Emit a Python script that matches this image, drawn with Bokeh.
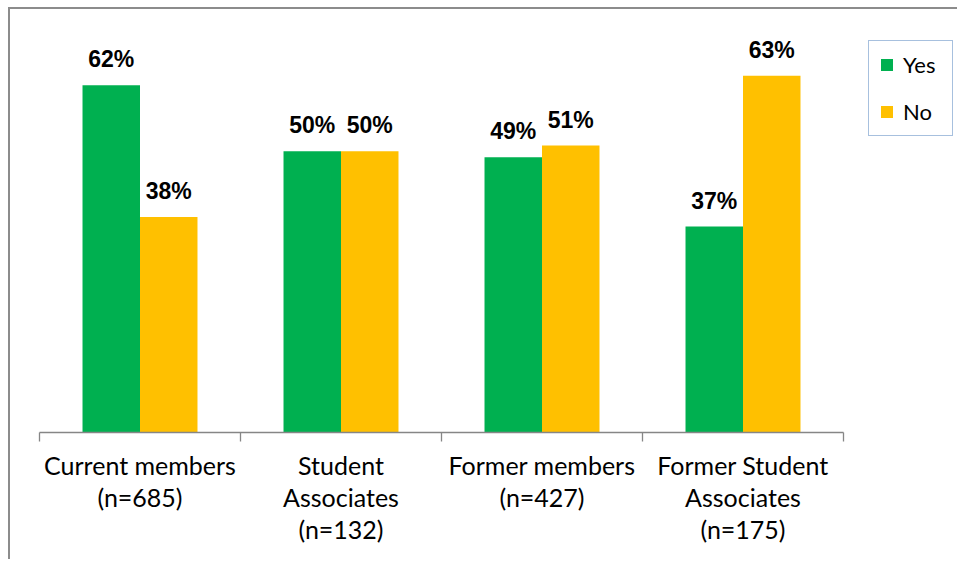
from bokeh.plotting import figure
from bokeh.models import (ColumnDataSource, Range1d, FixedTicker, LabelSet,
                          Legend, LegendItem)
from bokeh.core.properties import value
from bokeh.embed import file_html
from bokeh.resources import INLINE

categories = ["Current members\n(n=685)", "Student\nAssociates\n(n=132)",
              "Former members\n(n=427)", "Former Student\nAssociates\n(n=175)"]
yes_values = [61.7, 50.0, 48.9, 36.6]
no_values = [38.3, 50.0, 51.0, 63.4]
yes_labels = ["62%", "50%", "49%", "37%"]
no_labels = ["38%", "50%", "51%", "63%"]

GREEN = "#00B050"
YELLOW = "#FFC000"
FONT = "Lato"
BOLD_FONT = "Liberation Sans"
BAR_W = 0.286
N = len(categories)

centers = [i + 0.5 for i in range(N)]
yes_src = ColumnDataSource(dict(x=[c - BAR_W / 2 for c in centers], top=yes_values, lab=yes_labels))
no_src = ColumnDataSource(dict(x=[c + BAR_W / 2 for c in centers], top=no_values, lab=no_labels))

# frame spans to the right edge; the category axis is bounded to [0, N]
p = figure(width=949, height=552, output_backend="svg", toolbar_location=None,
           x_range=Range1d(0, N * 920 / 804), y_range=Range1d(0, 73.76),
           min_border_left=29, min_border_right=0, min_border_top=8,
           min_border_bottom=129,
           styles={"margin-left": "8px", "margin-top": "7px",
                   "border-left": "2px solid #8c8c8c",
                   "border-top": "2px solid #8c8c8c"})
p.outline_line_color = None
p.grid.visible = False
p.yaxis.visible = False

r_yes = p.vbar(x="x", top="top", width=BAR_W, bottom=0, source=yes_src,
               fill_color=GREEN, line_color=None)
r_no = p.vbar(x="x", top="top", width=BAR_W, bottom=0, source=no_src,
              fill_color=YELLOW, line_color=None)

for src in (yes_src, no_src):
    p.add_layout(LabelSet(x="x", y="top", text="lab", source=src, y_offset=18,
                          text_align="center", text_baseline="alphabetic",
                          text_font=value(BOLD_FONT), text_font_style=value("bold"),
                          text_font_size=value("23px"), text_color="#000000"))

ax = p.xaxis[0]
ax.bounds = (0, N)
ax.ticker = FixedTicker(ticks=centers, minor_ticks=list(range(N + 1)))
ax.major_label_overrides = {c: lab for c, lab in zip(centers, categories)}
ax.major_tick_line_color = None
ax.minor_tick_line_color = "#868686"
ax.minor_tick_line_width = 1.3
ax.minor_tick_in = 0
ax.minor_tick_out = 9
ax.axis_line_color = "#868686"
ax.axis_line_width = 1.3
ax.major_label_text_font = FONT
ax.major_label_text_font_size = "25px"
ax.major_label_text_color = "#000000"
ax.major_label_text_line_height = 1.067
ax.major_label_standoff = 8

legend = Legend(items=[LegendItem(label="Yes", renderers=[r_yes]),
                       LegendItem(label="No", renderers=[r_no])],
                location=(829, 296), orientation="vertical",
                border_line_color="#4F81BD", border_line_width=1.5,
                background_fill_color="white", background_fill_alpha=1,
                label_text_font=FONT, label_text_font_size="22px",
                label_text_color="#000000",
                glyph_width=15, glyph_height=15, label_height=15,
                label_width=39, spacing=20, padding=10, label_standoff=9,
                margin=0)
p.add_layout(legend)

open("out.html", "w").write(file_html(p, INLINE))
